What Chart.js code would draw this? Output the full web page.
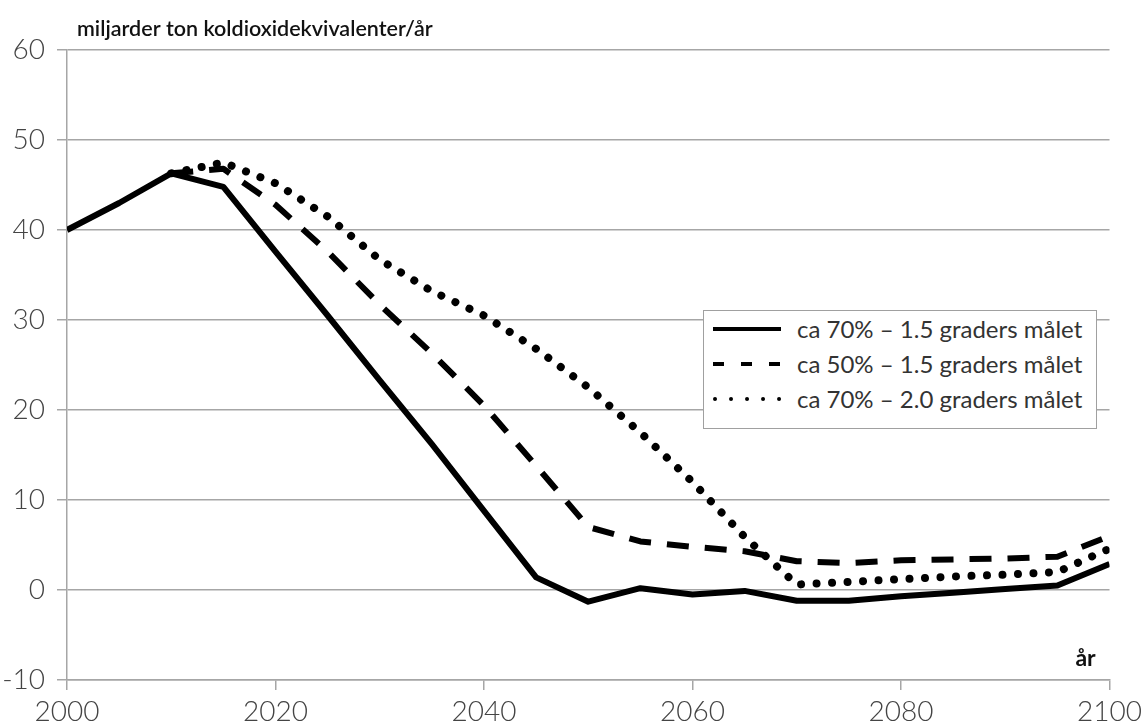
<!DOCTYPE html>
<html>
<head>
<meta charset="utf-8">
<script src="https://cdn.jsdelivr.net/npm/chart.js@4/dist/chart.umd.min.js"></script>
<style>
  html, body { margin: 0; padding: 0; background: #fff; }
  #wrap { position: relative; width: 1147px; height: 726px; }
  #legend {
    position: absolute; left: 703px; top: 310px; width: 394px; height: 119px;
    border: 1.5px solid #a0a0a0; background: #fff; box-sizing: border-box;
    font-family: Lato, 'Open Sans', sans-serif; font-size: 24px; color: #333;
    padding-top: 0px;
  }
  #legend .row { display: flex; align-items: center; height: 35px; }
  #legend svg { margin-left: 9px; margin-right: 14px; }
</style>
</head>
<body>
<div id="wrap">
  <canvas id="c" width="1147" height="726"></canvas>
  <div id="legend"></div>
</div>
<script>
//? DATA
const years = [2000, 2005, 2010, 2015, 2020, 2025, 2030, 2035, 2040, 2045, 2050,
               2055, 2060, 2065, 2070, 2075, 2080, 2085, 2090, 2095, 2100];

const seriesLabels = [
    'ca 70% \u2013 1.5 graders målet',
    'ca 50% \u2013 1.5 graders målet',
    'ca 70% \u2013 2.0 graders målet'
];

const solid70_15 = [40, 43, 46.3, 44.8, 37.6, 30.5, 23.3, 16.2, 8.8, 1.4, -1.3,
                    0.2, -0.5, -0.1, -1.2, -1.2, -0.7, -0.3, 0.1, 0.5, 2.9];
const dashed50_15 = [null, null, 46.3, 46.8, 42.8, 37.6, 31.7, 26.3, 20.5, 13.8, 7.0,
                     5.4, 4.8, 4.3, 3.2, 3.0, 3.3, 3.4, 3.5, 3.7, 6.0];
const dotted70_20 = [null, null, 46.3, 47.5, 45.2, 41.5, 36.7, 33.2, 30.5, 26.8, 22.5,
                     17.5, 12.0, 5.9, 0.6, 0.9, 1.2, 1.5, 1.7, 2.0, 4.6];

const yTicks = [-10, 0, 10, 20, 30, 40, 50, 60];
const xTicks = [2000, 2020, 2040, 2060, 2080, 2100];

const yTitle = 'miljarder ton koldioxidekvivalenter/år';
const xTitle = 'år';

const gridColor = '#a6a6a6';
const tickFont = { family: "Lato, 'Open Sans', sans-serif", size: 28, weight: '300' };

function toPoints(arr) {
    return years.map((y, i) => ({ x: y, y: arr[i] }));
}

const lineStyles = [
    { borderDash: [], borderCapStyle: 'butt', borderWidth: 6 },
    { borderDash: [22, 16], borderCapStyle: 'butt', borderWidth: 6 },
    { borderDash: [0.01, 15.5], borderCapStyle: 'round', borderWidth: 8 }
];

//? texts drawn on canvas near the axes
const axisTexts = {
    id: 'axisTexts',
    afterDraw(chart) {
        const ctx = chart.ctx;
        const a = chart.chartArea;
        ctx.save();
        ctx.fillStyle = '#111';
        ctx.font = "600 21.5px Lato, 'Open Sans', sans-serif";
        ctx.textBaseline = 'middle';
        ctx.textAlign = 'left';
        ctx.fillText(yTitle, a.left + 10, 29);
        ctx.font = "700 23px Lato, 'Open Sans', sans-serif";
        ctx.textAlign = 'center';
        ctx.fillText(xTitle, a.right - 24, a.bottom - 21);
        ctx.restore();
    }
};

new Chart(document.getElementById('c'), {
    type: 'line',
    data: {
        datasets: [solid70_15, dashed50_15, dotted70_20].map((arr, i) => ({
            label: seriesLabels[i],
            data: toPoints(arr),
            borderColor: '#000',
            backgroundColor: '#000',
            pointRadius: 0,
            fill: false,
            tension: 0,
            spanGaps: false,
            borderJoinStyle: 'round',
            ...lineStyles[i]
        }))
    },
    options: {
        responsive: false,
        animation: false,
        layout: { padding: { top: 50, right: 35, left: 0, bottom: 0 } },
        plugins: { legend: { display: false }, tooltip: { enabled: false } },
        scales: {
            x: {
                type: 'linear', min: 2000, max: 2100,
                afterBuildTicks: (s) => { s.ticks = xTicks.map(v => ({ value: v })); },
                afterFit: (s) => { s.height = 46; },
                grid: { drawOnChartArea: false, drawTicks: true, tickLength: 10, color: gridColor, lineWidth: 1.5 },
                border: { display: true, color: gridColor, width: 1.5 },
                ticks: { color: '#444', font: tickFont, padding: 5, maxRotation: 0, autoSkip: false,
                         callback: (v) => String(v) }
            },
            y: {
                min: -10, max: 60,
                afterBuildTicks: (s) => { s.ticks = yTicks.map(v => ({ value: v })); },
                afterFit: (s) => { s.width = 67; },
                grid: { color: gridColor, lineWidth: 1.5, tickLength: 10 },
                border: { display: true, color: gridColor, width: 1.5 },
                ticks: { color: '#444', font: tickFont, padding: 12 }
            }
        }
    },
    plugins: [axisTexts]
});

//? HTML legend
const legendSamples = [
    '<line x1="0" y1="10" x2="68" y2="10" stroke="#000" stroke-width="4"/>',
    '<line x1="0" y1="10" x2="68" y2="10" stroke="#000" stroke-width="4" stroke-dasharray="11 17"/>',
    '<line x1="2" y1="10" x2="68" y2="10" stroke="#000" stroke-width="4" stroke-linecap="round" stroke-dasharray="0.01 16"/>'
];
const legendEl = document.getElementById('legend');
seriesLabels.forEach((txt, i) => {
    const row = document.createElement('div');
    row.className = 'row';
    row.innerHTML = '<svg width="70" height="20">' + legendSamples[i] + '</svg><span>' + txt + '</span>';
    legendEl.appendChild(row);
});
</script>
</body>
</html>
